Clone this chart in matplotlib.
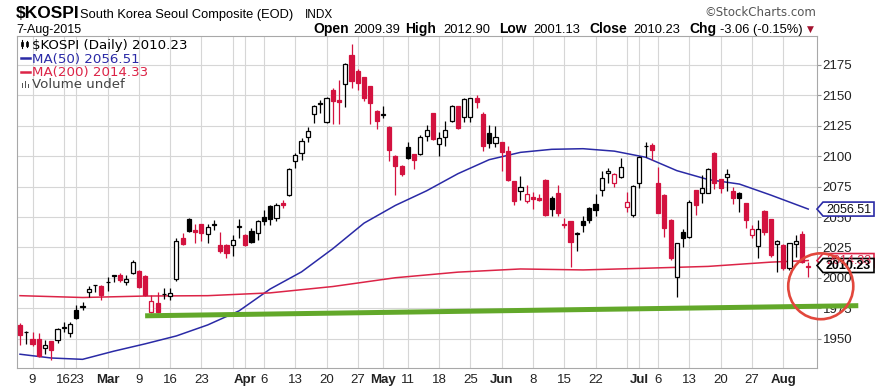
#!/usr/bin/env python3
"""KOSPI daily candlesticks, Feb - Aug 2015, drawn in the StockCharts look."""

import numpy as np
import matplotlib
matplotlib.use('Agg')
import matplotlib.pyplot as plt
from matplotlib.patches import Ellipse, Polygon, Rectangle
from matplotlib.lines import Line2D
from matplotlib.transforms import IdentityTransform

W, H = 891, 391

# daily OHLC, one entry per trading day from 5-Feb-2015 to 7-Aug-2015
opens = [1961.5, 1956, 1950, 1950, 1942.5, 1948, 1949, 1959, 1955, 1974,
         1976.5, 1988.2, 1994, 1993.5, 1996.5, 2002, 2002.4, 1996.4, 2003.8, 2005.7,
         2001.6, 1971.8, 1979.2, 1986.5, 1985.2, 1999.2, 2033, 2048, 2039, 2044,
         2036, 2043.5, 2027.3, 2027, 2027.3, 2042, 2035.5, 2038.2, 2036.9, 2050,
         2059.3, 2049.2, 2061.5, 2067.7, 2096.2, 2102.4, 2115.3, 2134.4, 2143, 2128,
         2154.4, 2146, 2159, 2183, 2170, 2164.5, 2157, 2136.6, 2134, 2123.5,
         2099.7, 2091.5, 2107, 2101.5, 2101.6, 2116.6, 2135.2, 2109.8, 2115.3, 2128.9,
         2140.7, 2131.7, 2131.7, 2147.5, 2134.4, 2118.8, 2110.6, 2111.4, 2103.8, 2079.2,
         2071.6, 2063.4, 2066.1, 2065.5, 2080.6, 2065.5, 2069.6, 2044.2, 2046.4, 2036.3,
         2047, 2057.4, 2060.6, 2072.4, 2086, 2078.2, 2082.5, 2058.5, 2051.6, 2077.6,
         2108, 2109, 2077.6, 2068, 2047.5, 2001.1, 2038, 2033.9, 2072, 2069.4,
         2070, 2102.7, 2080.9, 2082.5, 2071.6, 2070, 2061.2, 2035.2, 2026.2, 2055.2,
         2048, 2027.9, 2027, 2008, 2028, 2036, 2009.39]
highs = [1963, 1956.5, 1956, 1955, 1949, 1948.5, 1959, 1964, 1964, 1978,
         1980.5, 1993.4, 1994.5, 1994.2, 2001, 2002.6, 2003.8, 2002.4, 2014.7, 2006.5,
         2002.4, 1986, 1988.8, 1992, 1991.5, 2032.5, 2036.6, 2049, 2044, 2044.5,
         2044.5, 2047.8, 2038, 2027.5, 2035.5, 2048, 2036, 2041, 2047.8, 2056,
         2060, 2061.5, 2064, 2090.2, 2102.4, 2114.7, 2123.5, 2142, 2146.2, 2148,
         2155.7, 2162.6, 2176.2, 2191.8, 2171, 2165, 2157.5, 2138, 2140.7, 2124.3,
         2101, 2092.9, 2111.5, 2102, 2117.5, 2125.6, 2135.5, 2120, 2128.4, 2142,
         2141, 2147.5, 2147.5, 2150.2, 2136, 2125.6, 2125, 2111.8, 2107.9, 2079.5,
         2083.3, 2075.9, 2070.5, 2068.8, 2081, 2067, 2075.9, 2049.2, 2046.6, 2037.7,
         2050.5, 2058.5, 2068.8, 2087.4, 2090, 2085.8, 2098, 2070.8, 2076, 2100,
         2111.7, 2111, 2091.2, 2068.5, 2048, 2028.5, 2040, 2064, 2072.5, 2084.4,
         2090, 2103, 2081.5, 2089, 2075, 2070.5, 2061.5, 2043.4, 2047.5, 2055.7,
         2048.5, 2031, 2027.5, 2029, 2035.2, 2038.8, 2012.90]
lows = [1945, 1945.6, 1944, 1935, 1938, 1933, 1947, 1956, 1952, 1966,
        1973.7, 1984.7, 1988.8, 1982, 1989, 1996.4, 1997, 1994.2, 2003.3, 1991.5,
        1985, 1971, 1971, 1982.8, 1982, 1997.5, 2027, 2038, 2029, 2030,
        2029, 2039.6, 2020.5, 2016.4, 2017.8, 2033, 2026, 2028.7, 2031.4, 2043.7,
        2043.7, 2046.4, 2057.4, 2066.9, 2090.2, 2097, 2111.4, 2127, 2135.2, 2127,
        2126.2, 2126.2, 2139.9, 2155.7, 2154.4, 2144.8, 2126, 2122.4, 2131.1, 2095.6,
        2068.3, 2083.3, 2097.8, 2089, 2101, 2112, 2113.4, 2099.7, 2108, 2127.8,
        2122.4, 2127.8, 2127.8, 2139.3, 2104.3, 2106.5, 2107, 2087.4, 2079.2, 2060,
        2064.2, 2061.5, 2056.8, 2063, 2050.5, 2051, 2050.5, 2041, 2008.7, 2021.8,
        2037.7, 2045, 2050.5, 2066.9, 2078, 2074.3, 2082, 2054.4, 2050.3, 2073.5,
        2099.4, 2096.7, 2053, 2033.9, 2014.7, 1984.7, 2025.7, 2032.5, 2051.6, 2061.2,
        2069.4, 2072.7, 2069.4, 2071.6, 2060.6, 2054.4, 2040.7, 2032.5, 2016.1, 2035.2,
        2017.5, 2005.2, 2006.6, 2006.6, 2017, 2012.5, 2001.13]
closes = [1953.3, 1955.5, 1946, 1936, 1945, 1941, 1958, 1959.5, 1962, 1967.5,
          1977, 1990.7, 1994.2, 1986, 1997, 2002.4, 1998.3, 1999.2, 2013.4, 1993,
          1986, 1981.4, 1971.8, 1987, 1987.4, 2030.6, 2027.8, 2038.5, 2038, 2036.5,
          2042, 2044, 2022, 2020.5, 2031.4, 2042.3, 2027.3, 2029.5, 2046.4, 2047,
          2048, 2060, 2059.5, 2089.3, 2100.5, 2112.5, 2120.7, 2140.7, 2143.5, 2147.5,
          2144.8, 2144.5, 2175.4, 2161.2, 2159.8, 2147.5, 2143.4, 2128.4, 2134.5, 2105.2,
          2091.5, 2085.2, 2098.3, 2097, 2116, 2121.5, 2114, 2114.5, 2121.5, 2140.7,
          2122.9, 2147, 2147.2, 2144.2, 2107.9, 2110.6, 2115.3, 2103.2, 2080.6, 2063.4,
          2074.3, 2068.8, 2064.5, 2064, 2051.9, 2056.8, 2053.3, 2043.1, 2029.5, 2036.6,
          2043.1, 2047.8, 2056, 2081.9, 2087.5, 2085.2, 2091.2, 2062.6, 2075.4, 2099.4,
          2108.3, 2105, 2053.5, 2040.7, 2016.1, 2028.4, 2032.5, 2062.6, 2059.8, 2073.5,
          2089, 2077.6, 2073.5, 2085.2, 2065.3, 2065.5, 2047.5, 2039.9, 2040, 2038,
          2018.8, 2030.6, 2008, 2028.4, 2030.6, 2013.29, 2010.23]

# moving averages (trading-day index -> value)
ma50_idx = [0, 5, 10, 15, 20, 25, 30, 35, 40, 45, 50, 55, 60, 65, 70,
            75, 80, 85, 90, 95, 100, 105, 110, 115, 120, 126]
ma50 = [1937.5, 1934.4, 1933.3, 1940, 1946, 1952.5, 1961.5, 1973, 1991, 2005,
        2024, 2045, 2059.5, 2071.5, 2085.5, 2097, 2103, 2105.5, 2106, 2104,
        2099, 2088, 2080.7, 2077, 2068, 2056.5]
ma200_idx = [0, 10, 20, 30, 40, 50, 60, 70, 80, 90, 100, 110, 120, 126]
ma200 = [1985.5, 1984, 1985.2, 1985.5, 1987.8, 1993, 2000.2, 2004.8,
         2007.4, 2006.6, 2008, 2009.5, 2013, 2014.3]

# hand-drawn support line (green) and the circle around the last bar
trend_idx = [20, 134]
trend_val = [1969, 1977.3]
circle_idx, circle_val = 128, 1993.2

# weekly grid / x labels (trading-day index of each week start)
tick_idx = [2, 7, 9, 14, 19, 24, 29, 34, 36, 39, 44, 49, 54, 58, 62, 67, 72,
            77, 82, 87, 92, 97, 99, 102, 107, 112, 117, 122]
tick_lbl = ['9', '16', '23', 'Mar', '9', '16', '23', '', 'Apr', '6', '13', '20',
            '27', 'May', '11', '18', '25', 'Jun', '8', '15', '22', '', 'Jul',
            '6', '13', '20', '27', 'Aug']
months = {'Mar', 'Apr', 'May', 'Jun', 'Jul', 'Aug'}
y_ticks = [1950, 1975, 2000, 2025, 2050, 2075, 2100, 2125, 2150, 2175]

RED = '#d3123f'
BLUE = '#2a2aa6'
MA_RED = '#dc2447'
GREEN = '#62a82a'


def fx(px):
    return px / W


def fy(py):
    return 1 - py / H


fig = plt.figure(figsize=(W / 100, H / 100), dpi=100)
ax = fig.add_axes([fx(17), fy(368), 800 / W, 332 / H])

o, h, l, c = (np.array(a, dtype=float) for a in (opens, highs, lows, closes))
x = np.arange(len(c))
prev = np.r_[o[0], c[:-1]]
col = np.where(c < prev, RED, 'black')
face = np.where(c > o, 'white', col)

ax.vlines(x, l, h, colors=col, lw=0.9, zorder=3)
ax.bar(x, np.maximum(np.abs(c - o), 0.35), bottom=np.minimum(o, c), width=0.66,
       color=face, edgecolor=col, linewidth=0.9, zorder=4)

ax.plot(ma50_idx, ma50, color=BLUE, lw=1.1, zorder=2)
ax.plot(ma200_idx, ma200, color=MA_RED, lw=1.1, zorder=2)

ax.set_xlim(-0.48, 127.4)
ax.set_ylim(1926.2, 2198.4)

ax.set_xticks(tick_idx)
ax.set_xticklabels(tick_lbl, fontsize=9.5, family='Liberation Sans')
for t in ax.get_xticklabels():
    if t.get_text() in months:
        t.set_fontweight('bold')
ax.tick_params(axis='x', length=0, pad=4, colors='#222222')

ax.yaxis.tick_right()
ax.set_yticks(y_ticks)
ax.set_yticklabels([str(v) for v in y_ticks], fontsize=9.5, family='Liberation Sans')
ax.tick_params(axis='y', length=3, pad=1, colors='#222222', color='#999999')

ax.grid(True, color='#d6d6d6', lw=0.8)
ax.set_axisbelow(True)
for s in ax.spines.values():
    s.set_color('#a8a8a8')
    s.set_linewidth(0.8)

# support line and circle (drawn over the axis labels, as in the picture)
ax.plot(trend_idx, trend_val, color=GREEN, lw=3.6, solid_capstyle='butt',
        clip_on=False, zorder=8)
ax.add_patch(Ellipse((circle_idx, circle_val), 10.4, 54, fill=False,
                     ec='#e2473c', lw=1.9, clip_on=False, zorder=9))

# price tags on the right edge
fig.canvas.draw()
x_edge = ax.transAxes.transform((1, 0))[0]


def tag(val, text, ec, tc, bold):
    yp = ax.transData.transform((0, val))[1]
    hh = 7
    pts = [[x_edge, yp], [x_edge + 6, yp + hh], [x_edge + 57, yp + hh],
           [x_edge + 57, yp - hh], [x_edge + 6, yp - hh]]
    ax.add_patch(Polygon(pts, closed=True, fc='white', ec=ec, lw=1.2,
                         transform=IdentityTransform(), clip_on=False, zorder=6))
    ax.text(x_edge + 31.5, yp - 0.5, text, transform=IdentityTransform(),
            ha='center', va='center', fontsize=9, family='Liberation Sans',
            fontweight='bold' if bold else 'normal', color=tc,
            clip_on=False, zorder=7)


tag(ma50[-1], '2056.51', BLUE, '#111111', False)
tag(ma200[-1], '2014.33', MA_RED, MA_RED, False)
tag(closes[-1], '2010.23', 'black', 'black', True)

# legend inside the chart
ax.text(fx(32.5), fy(48.5), '$KOSPI (Daily) 2010.23', transform=fig.transFigure,
        fontsize=9.6, color='black')
ax.text(fx(32.5), fy(62.5), 'MA(50) 2056.51', transform=fig.transFigure,
        fontsize=9.6, color=BLUE)
ax.text(fx(32.5), fy(76), 'MA(200) 2014.33', transform=fig.transFigure,
        fontsize=9.6, color=MA_RED)
ax.text(fx(31.5), fy(88.3), 'Volume undef', transform=fig.transFigure,
        fontsize=9.6, color='#444444')
fig.add_artist(Line2D([fx(20.5), fx(30.5)], [fy(58.3)] * 2, color=BLUE, lw=1.8))
fig.add_artist(Line2D([fx(20.5), fx(30.5)], [fy(71.5)] * 2, color=MA_RED, lw=1.8))
# tiny candle icon and volume icon
for px0, p_lo, p_hi in [(22, 40, 48), (27, 41, 47)]:
    fig.add_artist(Line2D([fx(px0)] * 2, [fy(p_hi), fy(p_lo)], color='black', lw=0.8))
fig.add_artist(Rectangle((fx(21), fy(46)), 2 / W, 4 / H, fc='black', ec='black', lw=0.5))
fig.add_artist(Rectangle((fx(26), fy(45.5)), 2 / W, 3 / H, fc='white', ec='black', lw=0.6))
for px0, top in [(21.5, 83), (24.5, 81), (27.5, 84)]:
    fig.add_artist(Rectangle((fx(px0), fy(88)), 1.8 / W, (88 - top) / H,
                             fc='#555555', ec='none'))

# header
fig.text(fx(16), fy(18), '$KOSPI', fontsize=12.5, fontweight='bold',
         family='Liberation Sans')
fig.text(fx(80), fy(18), 'South Korea Seoul Composite (EOD)', fontsize=9.3,
         family='Liberation Sans')
fig.text(fx(305), fy(18), 'INDX', fontsize=8.5, family='Liberation Sans')
fig.text(fx(16), fy(33), '7-Aug-2015', fontsize=9, family='Liberation Sans')
fig.text(fx(816), fy(16.5), '\u00a9StockCharts.com', fontsize=8.5, ha='right',
         color='#555555')

header = [(313.3, 'Open', True), (353, '2009.39', False),
          (405, 'High', True), (443, '2012.90', False),
          (499, 'Low', True), (533, '2001.13', False),
          (589, 'Close', True), (633, '2010.23', False),
          (689, 'Chg', True), (720, '-3.06 (-0.15%)', False)]
for px0, s, bold in header:
    fig.text(fx(px0), fy(33), s, fontsize=10 if bold else 9.3,
             fontweight='bold' if bold else 'normal', family='Liberation Sans')
fig.text(fx(806.5), fy(32), '\u25bc', fontsize=6.5, color='#a3132f')

fig.savefig('out.png', dpi=100)
